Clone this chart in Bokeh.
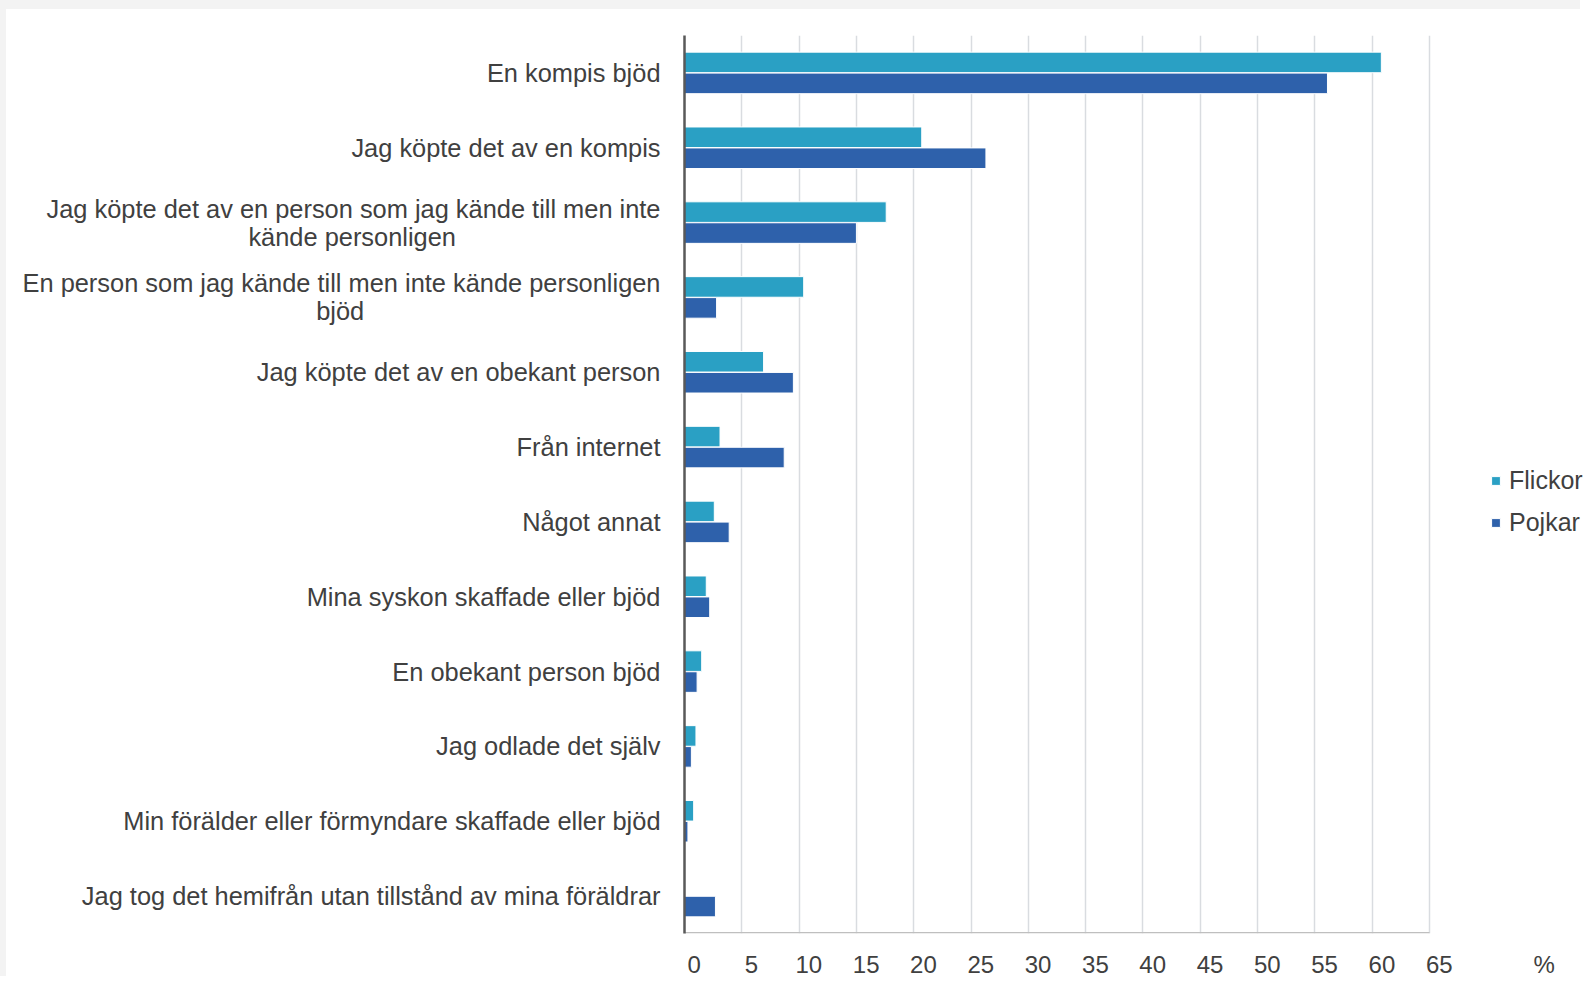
from bokeh.plotting import figure
from bokeh.models import (FactorRange, Range1d, FixedTicker, Legend, LegendItem, ColumnDataSource)
from bokeh.transform import dodge
from bokeh.embed import file_html
from bokeh.resources import INLINE

categories = [
    "En kompis bjöd",
    "Jag köpte det av en kompis",
    "Jag köpte det av en person som jag kände till men inte\nkände personligen",
    "En person som jag kände till men inte kände personligen\nbjöd",
    "Jag köpte det av en obekant person",
    "Från internet",
    "Något annat",
    "Mina syskon skaffade eller bjöd",
    "En obekant person bjöd",
    "Jag odlade det själv",
    "Min förälder eller förmyndare skaffade eller bjöd",
    "Jag tog det hemifrån utan tillstånd av mina föräldrar",
]
flickor = [60.8, 20.7, 17.6, 10.4, 6.9, 3.1, 2.6, 1.9, 1.5, 1.0, 0.8, 0.0]
pojkar = [56.1, 26.3, 15.0, 2.8, 9.5, 8.7, 3.9, 2.2, 1.1, 0.6, 0.3, 2.7]
series_names = ["Flickor", "Pojkar"]
x_ticks = list(range(0, 70, 5))
x_max = 65
unit_label = "%"
unit_pos = 75

FONT = "Liberation Sans"
TXT = "#404040"
C_F = "#2AA0C4"
C_P = "#2E61AB"
LBL_SHIFT = 0.85  # tick labels sit slightly right of their gridlines

# wrapped second lines are centred under the first line: pad them on the right
line2_pad = {2: 29, 3: 42}
factors = [c + "\u00a0" * line2_pad[i] + "\u200b" if i in line2_pad else c
           for i, c in enumerate(categories)]

src = ColumnDataSource(dict(cat=factors, f=flickor, p=pojkar))

p = figure(
    width=1580, height=976,
    y_range=FactorRange(factors=list(reversed(factors)), range_padding=0),
    x_range=Range1d(0, 78.7),
    output_backend="svg", toolbar_location=None,
    min_border_left=678, min_border_right=0, min_border_top=26, min_border_bottom=52,
)
p.styles = {"border-top": "9px solid #F3F3F3", "border-left": "6px solid #F3F3F3"}
p.outline_line_color = None
p.background_fill_color = "white"
p.border_fill_color = "white"

rf = p.hbar(y=dodge("cat", 0.14, range=p.y_range), right="f", height=0.275, left=0,
            source=src, fill_color=C_F, line_color="white", line_width=1)
rp = p.hbar(y=dodge("cat", -0.14, range=p.y_range), right="p", height=0.275, left=0,
            source=src, fill_color=C_P, line_color="white", line_width=1)

# bottom axis line (0 .. 65 only)
p.segment(x0=[0], x1=[x_max], y0=[(factors[-1], -0.49)], y1=[(factors[-1], -0.49)],
          line_color="#BFBFBF", line_width=1.5)

# grid
p.ygrid.grid_line_color = None
p.xgrid.ticker = FixedTicker(ticks=x_ticks)
p.xgrid.grid_line_color = "#D9DCE0"
p.xgrid.grid_line_width = 1.5

# x axis (labels only)
lbl_pos = [round(t + LBL_SHIFT, 2) for t in x_ticks]
p.xaxis.ticker = FixedTicker(ticks=lbl_pos + [unit_pos])
overrides = {pos: str(t) for pos, t in zip(lbl_pos, x_ticks)}
overrides[unit_pos] = unit_label
p.xaxis.major_label_overrides = overrides
p.xaxis.axis_line_color = None
p.xaxis.major_tick_line_color = None
p.xaxis.minor_tick_line_color = None
p.xaxis.major_label_text_font = FONT
p.xaxis.major_label_text_font_size = "24px"
p.xaxis.major_label_text_color = TXT
p.xaxis.major_label_standoff = 11

# y axis
p.yaxis.axis_line_color = "#595959"
p.yaxis.axis_line_width = 2.5
p.yaxis.major_tick_line_color = None
p.yaxis.minor_tick_line_color = None
p.yaxis.major_label_text_font = FONT
p.yaxis.major_label_text_font_size = "25.4px"
p.yaxis.major_label_text_color = TXT
p.yaxis.major_label_text_line_height = 1.0
p.yaxis.major_label_standoff = 18

legend = Legend(
    items=[LegendItem(label=series_names[0], renderers=[rf]),
           LegendItem(label=series_names[1], renderers=[rp])],
    location=(806, 396),
    orientation="vertical",
    label_text_font=FONT, label_text_font_size="25px", label_text_color=TXT,
    glyph_width=11, glyph_height=11, label_standoff=8, spacing=13,
    padding=0, margin=0, border_line_color=None, background_fill_alpha=0,
)
p.add_layout(legend, "center")

open("out.html", "w").write(file_html(p, INLINE))
